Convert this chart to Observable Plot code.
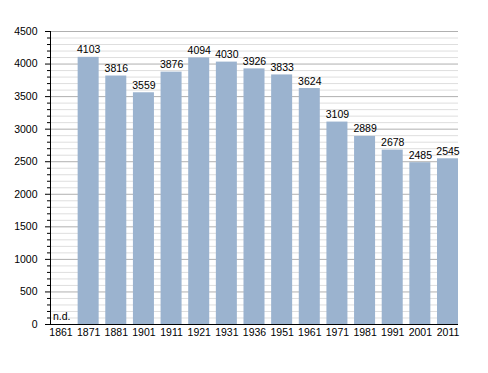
<!DOCTYPE html>
<html><head><meta charset="utf-8">
<script src="https://cdn.jsdelivr.net/npm/d3@7"></script>
<script src="https://cdn.jsdelivr.net/npm/@observablehq/plot@0.6"></script>
<style>body{margin:0;background:#fff;font-family:"Liberation Sans",Arial,sans-serif;}</style>
</head><body><div id="chart"></div>
<script>
const years = ["1861","1871","1881","1901","1911","1921","1931","1936","1951","1961","1971","1981","1991","2001","2011"];
const population = [null,4103,3816,3559,3876,4094,4030,3926,3833,3624,3109,2889,2678,2485,2545];
const majorTicks = [0,500,1000,1500,2000,2500,3000,3500,4000,4500];
const minorTicks = d3.range(0,4501,100).filter(v => v % 500 !== 0);
const missingLabel = "n.d.";

const data = years.map((y,i)=>({year:y, value:population[i]}));
const present = data.filter(d=>d.value!=null);
const missing = data.filter(d=>d.value==null);

const chart = Plot.plot({
  width: 488, height: 373,
  marginTop: 31, marginBottom: 49, marginLeft: 50, marginRight: 30,
  style: {fontFamily: "Liberation Sans, Arial, sans-serif", fontSize: "10.5px", color: "#000", background: "#fff"},
  x: {domain: years, paddingInner: 0.24, paddingOuter: 0, round: false, label: null},
  y: {domain: [0,4500], label: null},
  marks: [
    Plot.ruleY(minorTicks, {stroke: "#dedede", strokeWidth: 1}),
    Plot.ruleY(majorTicks, {stroke: "#b0b0b0", strokeWidth: 1}),
    Plot.barY(present, {x: "year", y: "value", fill: "#9bb3cf"}),
    Plot.text(present, {x: "year", y: "value", text: d => String(d.value), lineAnchor: "bottom", dy: -4, fill: "#000", fontSize: 10.5}),
    Plot.text(missing, {x: "year", y: 0, text: () => missingLabel, textAnchor: "start", lineAnchor: "bottom", dx: -8, dy: -5, fill: "#000", fontSize: 10.5}),
    Plot.axisY({ticks: minorTicks, tickSize: 3, tickFormat: () => "", stroke: "#000"}),
    Plot.axisY({ticks: majorTicks, tickSize: 5, tickPadding: 8, tickFormat: d => String(d), stroke: "#000", fill: "#000", fontSize: 10.5}),
    Plot.axisX({tickSize: 0, tickPadding: 4, fill: "#000", fontSize: 10.5}),
    Plot.ruleY([0], {stroke: "#000", strokeWidth: 1.2})
  ]
});
document.getElementById("chart").appendChild(chart);
const svg = d3.select(chart);
svg.append("line").attr("x1",50.5).attr("x2",50.5).attr("y1",31).attr("y2",324).attr("stroke","#000");
</script></body></html>
